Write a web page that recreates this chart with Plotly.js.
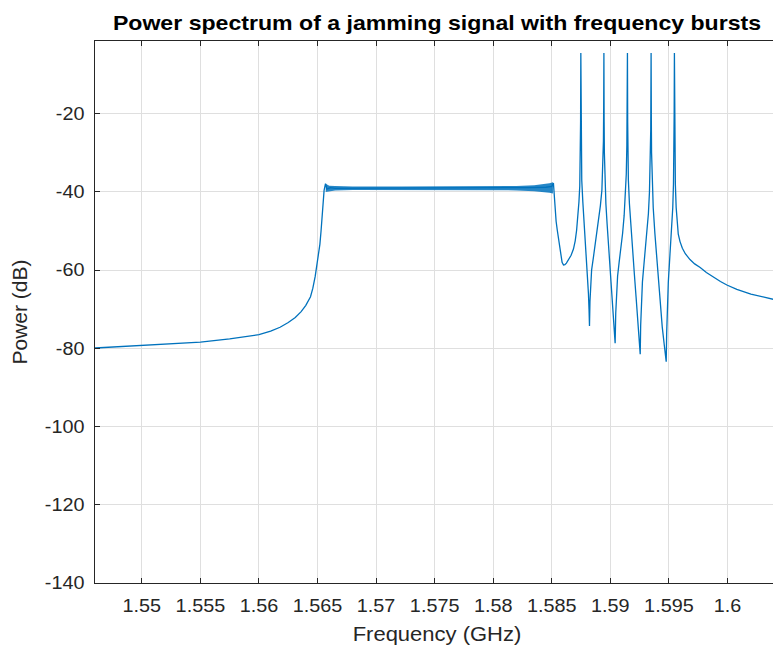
<!DOCTYPE html>
<html>
<head>
<meta charset="utf-8">
<script src="https://cdn.plot.ly/plotly-3.0.1.min.js"></script>
<style>
  html, body { margin: 0; padding: 0; background: #fff; overflow: hidden; }
  #chart { width: 780px; height: 652px; }
</style>
</head>
<body>
<div id="chart"></div>
<script>
// Spectrum trace: frequency (GHz) and power (dB)
const freqGHz = [
  // lower out-of-band skirt
  1.5460, 1.5480, 1.5500, 1.5525, 1.5550, 1.5575, 1.5593, 1.5600, 1.5610, 1.5618,
  1.5625, 1.5631, 1.5636, 1.5640, 1.5644, 1.5646, 1.5648, 1.5650, 1.5652, 1.5653,
  1.5654, 1.5655, 1.56556, 1.56568,
  // flat jamming band
  1.5658, 1.5661, 1.5665, 1.5700, 1.5750, 1.5800, 1.5830, 1.5845, 1.5850, 1.58514,
  // gap before the bursts
  1.58520, 1.58528, 1.58537, 1.58547, 1.58557, 1.58567, 1.58577, 1.58588, 1.58600, 1.58612,
  1.58625, 1.58642, 1.58665, 1.58685, 1.58700, 1.58712, 1.58722, 1.58732, 1.58739, 1.58744,
  1.58746,
  // burst 1
  1.58748, 1.58750, 1.58752, 1.58756, 1.58765, 1.58775, 1.58785, 1.58795, 1.58805, 1.58813,
  1.58818, 1.58822, 1.58826, 1.58832, 1.58840, 1.58856, 1.58880, 1.58899, 1.58915, 1.58928,
  1.58936, 1.58941, 1.58943,
  // burst 2
  1.58945, 1.58947, 1.58949, 1.58953, 1.58962, 1.58972, 1.58985, 1.58998, 1.59010, 1.59022,
  1.59032, 1.59041, 1.59046, 1.59053, 1.59062, 1.59075, 1.59090, 1.59105, 1.59118, 1.59128,
  1.59136, 1.59141, 1.59144,
  // burst 3
  1.59146, 1.59148, 1.59150, 1.59154, 1.59163, 1.59175, 1.59190, 1.59205, 1.59220, 1.59235,
  1.59247, 1.59255, 1.59259, 1.59265, 1.59274, 1.59287, 1.59300, 1.59314, 1.59325, 1.59334,
  1.59341, 1.59345, 1.59346,
  // burst 4
  1.59348, 1.59350, 1.59352, 1.59356, 1.59366, 1.59380, 1.59396, 1.59412, 1.59428, 1.59443,
  1.59460, 1.59477, 1.59481, 1.59487, 1.59495, 1.59505, 1.59515, 1.59525, 1.59533, 1.59539,
  1.59543, 1.59545,
  // burst 5 and upper skirt
  1.59547, 1.59549, 1.59551, 1.59555, 1.59562, 1.59570, 1.59580, 1.59595, 1.59615, 1.59640,
  1.59680, 1.59720, 1.59767, 1.59820, 1.59880, 1.59940, 1.59995, 1.60080, 1.60200, 1.60320,
  1.60440
];
const powerDb = [
  -79.9, -79.6, -79.3, -78.9, -78.4, -77.6, -76.9, -76.5, -75.6, -74.6,
  -73.4, -72.1, -70.6, -69.0, -66.8, -64.6, -61.6, -57.8, -53.4, -50.0,
  -46.6, -42.8, -39.6, -37.9,
  -39.3, -38.9, -39.1, -39.0, -39.0, -39.0, -38.9, -38.8, -38.6, -37.7,
  -41.0, -44.5, -47.5, -49.8, -51.8, -54.5, -56.6, -58.0, -58.7, -58.6,
  -58.2, -57.4, -56.2, -54.6, -52.5, -49.8, -46.5, -42.5, -38.5, -32.0,
  -22.0,
  -4.5, -22.0, -30.0, -37.0, -42.5, -47.0, -51.0, -55.5, -61.0, -66.0,
  -70.0, -74.3, -68.0, -63.5, -60.0, -56.6, -51.5, -47.2, -43.5, -39.5,
  -34.0, -27.0, -19.0,
  -4.5, -22.0, -30.0, -37.0, -43.0, -48.0, -53.5, -59.0, -64.0, -69.5,
  -74.0, -78.7, -71.0, -65.5, -61.5, -58.0, -54.5, -50.5, -46.0, -41.5,
  -35.5, -28.0, -19.0,
  -4.5, -22.0, -30.0, -37.0, -43.0, -49.0, -55.0, -61.0, -67.0, -73.0,
  -77.5, -81.5, -74.0, -68.0, -63.0, -58.5, -54.5, -50.0, -45.5, -40.0,
  -33.0, -24.0, -17.0,
  -4.5, -22.0, -30.0, -37.0, -44.0, -50.5, -57.0, -63.0, -69.0, -74.5,
  -79.0, -83.4, -76.0, -69.0, -63.0, -58.0, -53.5, -49.0, -44.0, -38.0,
  -30.0, -20.0,
  -4.5, -22.0, -30.0, -38.0, -44.0, -48.0, -50.8, -52.7, -54.4, -55.8,
  -57.3, -58.4, -59.3, -60.6, -61.8, -62.9, -63.8, -64.9, -66.1, -67.0,
  -67.8
];

// Ripple envelope across the flat jamming band
const bandFreqGHz = [1.5657, 1.5660, 1.5665, 1.5680, 1.5720, 1.5760, 1.5800, 1.5820, 1.5835, 1.5843, 1.5848, 1.5851];
const bandUpperDb = [-37.9, -38.4, -38.5, -38.6, -38.6, -38.6, -38.6, -38.5, -38.3, -38.1, -37.8, -37.5];
const bandLowerDb = [-40.0, -39.8, -39.6, -39.5, -39.5, -39.5, -39.5, -39.6, -39.8, -40.0, -40.2, -40.4];

// Axis ticks
const xTickVals = [1.55, 1.555, 1.56, 1.565, 1.57, 1.575, 1.58, 1.585, 1.59, 1.595, 1.6];
const xTickText = ['1.55', '1.555', '1.56', '1.565', '1.57', '1.575', '1.58', '1.585', '1.59', '1.595', '1.6'];
const yTickVals = [-140, -120, -100, -80, -60, -40, -20];
const yTickText = ['-140', '-120', '-100', '-80', '-60', '-40', '-20'];

const LINE = '#0072BD';
const AXIS = '#262626';
const GRID = '#dfdfdf';
const FONT = 'Liberation Sans, Arial, Helvetica, sans-serif';
const TEXT_WIDEN = 1.1;

const traces = [
  { x: bandFreqGHz, y: bandLowerDb, mode: 'lines', line: { width: 0, color: LINE },
    hoverinfo: 'skip', showlegend: false },
  { x: bandFreqGHz, y: bandUpperDb, mode: 'lines', line: { width: 0, color: LINE },
    fill: 'tonexty', fillcolor: 'rgba(0,114,189,0.85)', hoverinfo: 'skip', showlegend: false },
  { x: freqGHz, y: powerDb, mode: 'lines', line: { width: 1.3, color: LINE }, showlegend: false }
];

const axisCommon = {
  showline: true, linecolor: AXIS, linewidth: 1, mirror: 'ticks',
  ticks: 'inside', ticklen: 5, tickwidth: 1, tickcolor: AXIS,
  showgrid: true, gridcolor: GRID, gridwidth: 1, zeroline: false,
  tickfont: { family: FONT, size: 18, color: AXIS },
  tickmode: 'array', automargin: false
};

const layout = {
  width: 780, height: 652,
  margin: { l: 95, r: 1, t: 41, b: 69 },
  paper_bgcolor: '#ffffff', plot_bgcolor: '#ffffff',
  showlegend: false,
  title: {
    text: 'Power spectrum of a jamming signal with frequency bursts',
    font: { family: FONT, size: 21, color: '#000000', weight: 'bold' },
    x: 0.5, xref: 'paper', xanchor: 'center',
    y: 0.965, yref: 'container', yanchor: 'middle'
  },
  xaxis: Object.assign({}, axisCommon, {
    range: [1.546, 1.6044],
    tickvals: xTickVals, ticktext: xTickText,
    ticklabelstandoff: 6,
    title: { text: 'Frequency (GHz)', font: { family: FONT, size: 20, color: AXIS }, standoff: 12 }
  }),
  yaxis: Object.assign({}, axisCommon, {
    range: [-140, -1.4],
    tickvals: yTickVals, ticktext: yTickText,
    ticklabelstandoff: 6,
    title: { text: 'Power (dB)', font: { family: FONT, size: 21, color: AXIS }, standoff: 15 }
  })
};

// Widen horizontal labels slightly to the proportions of the figure's typeface
function widenLabels(gd) {
  gd.querySelectorAll('.xtick text, .ytick text, .g-gtitle text, .g-xtitle text').forEach(function (t) {
    const w = t.getComputedTextLength();
    if (w > 0) {
      t.setAttribute('textLength', (w * TEXT_WIDEN).toFixed(1));
      t.setAttribute('lengthAdjust', 'spacingAndGlyphs');
    }
  });
}

Plotly.newPlot('chart', traces, layout, { staticPlot: true, displayModeBar: false })
  .then(widenLabels);
</script>
</body>
</html>
